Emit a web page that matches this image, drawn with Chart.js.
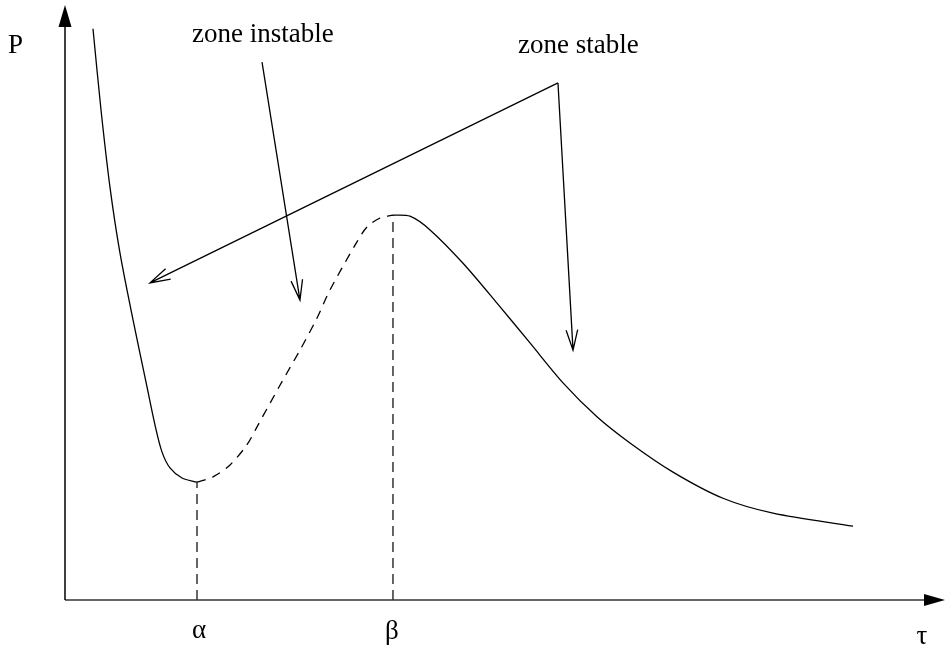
<!DOCTYPE html>
<html>
<head>
<meta charset="utf-8">
<script src="https://cdn.jsdelivr.net/npm/chart.js@4.4.1/dist/chart.umd.min.js"></script>
<style>
    html, body { margin: 0; padding: 0; background: #fff; }
    #wrap { width: 945px; height: 650px; }
</style>
</head>
<body>
<div id="wrap"><canvas id="diagram" width="945" height="650"></canvas></div>
<script>
// branche stable gauche (avant alpha)
const stableLeftTau = [0.318, 0.409, 0.511, 0.625, 0.773, 0.932, 1.023, 1.102, 1.193, 1.33, 1.5];
const stableLeftP = [9.60, 8.24, 6.94, 5.83, 4.71, 3.58, 2.94, 2.49, 2.22, 2.05, 1.98];

// branche instable (entre alpha et beta)
const unstableTau = [1.5, 1.682, 1.875, 2.068, 2.193, 2.443, 2.67, 2.864, 3.011, 3.318, 3.432, 3.58, 3.727];
const unstableP = [1.98, 2.07, 2.27, 2.61, 2.94, 3.61, 4.20, 4.74, 5.21, 6.02, 6.27, 6.42, 6.47];

// branche stable droite (apres beta)
const stableRightTau = [3.727, 3.92, 4.148, 4.523, 4.909, 5.284, 5.659, 6.045, 6.42, 6.909, 7.477, 8.045, 8.955];
const stableRightP = [6.47, 6.45, 6.22, 5.66, 4.99, 4.32, 3.65, 3.08, 2.64, 2.15, 1.71, 1.46, 1.24];

// points critiques
const criticalTau = [1.5, 3.727];
const criticalP = [1.98, 6.47];
const criticalLabels = ["α", "β"];

const FONT = "27px 'Liberation Serif', 'DejaVu Serif', serif";

function toPoints(xs, ys) {
    return xs.map(function (x, i) {
        return { x: x, y: ys[i] };
    });
}

function curveDataset(xs, ys, dashed) {
    return {
        data: toPoints(xs, ys),
        borderColor: "#000",
        borderWidth: 1.3,
        borderDash: dashed ? [9, 7] : [],
        pointRadius: 0,
        tension: 0.3,
        fill: false,
        clip: false,
    };
}

function markerDataset(i) {
    return {
        data: [
            { x: criticalTau[i], y: 0 },
            { x: criticalTau[i], y: criticalP[i] },
        ],
        borderColor: "#000",
        borderWidth: 1.2,
        borderDash: [10, 6],
        pointRadius: 0,
        tension: 0,
        fill: false,
        clip: false,
    };
}

function openArrow(ctx, x1, y1, x2, y2) {
    const ang = Math.atan2(y2 - y1, x2 - x1);
    const len = 21;
    const spread = 0.28;
    ctx.beginPath();
    ctx.moveTo(x1, y1);
    ctx.lineTo(x2, y2);
    ctx.moveTo(x2 - len * Math.cos(ang - spread), y2 - len * Math.sin(ang - spread));
    ctx.lineTo(x2, y2);
    ctx.lineTo(x2 - len * Math.cos(ang + spread), y2 - len * Math.sin(ang + spread));
    ctx.stroke();
}

const diagramPlugin = {
    id: "diagramDecor",
    afterDatasetsDraw: function (chart) {
        const ctx = chart.ctx;
        const xs = chart.scales.x;
        const ys = chart.scales.y;
        const px = function (v) { return xs.getPixelForValue(v); };
        const py = function (v) { return ys.getPixelForValue(v); };
        const area = chart.chartArea;

        ctx.save();

        // axe des tau
        ctx.strokeStyle = "#333";
        ctx.lineWidth = 1.6;
        ctx.beginPath();
        ctx.moveTo(area.left, area.bottom);
        ctx.lineTo(area.right - 20, area.bottom);
        ctx.stroke();
        ctx.fillStyle = "#000";
        ctx.beginPath();
        ctx.moveTo(area.right - 21, area.bottom - 6);
        ctx.lineTo(area.right, area.bottom);
        ctx.lineTo(area.right - 21, area.bottom + 6);
        ctx.closePath();
        ctx.fill();

        // axe des P
        ctx.strokeStyle = "#000";
        ctx.lineWidth = 1.5;
        ctx.beginPath();
        ctx.moveTo(area.left, area.bottom);
        ctx.lineTo(area.left, area.top + 20);
        ctx.stroke();
        ctx.beginPath();
        ctx.moveTo(area.left - 6.5, area.top + 22);
        ctx.lineTo(area.left, area.top);
        ctx.lineTo(area.left + 6.5, area.top + 22);
        ctx.closePath();
        ctx.fill();

        // fleches
        ctx.lineWidth = 1.3;
        ctx.strokeStyle = "#000";
        openArrow(ctx, px(2.239), py(9.04), px(2.67), py(5.04));
        openArrow(ctx, px(5.602), py(8.69), px(0.966), py(5.33));
        openArrow(ctx, px(5.602), py(8.69), px(5.773), py(4.20));

        // textes
        ctx.fillStyle = "#000";
        ctx.font = FONT;
        ctx.textBaseline = "alphabetic";
        ctx.textAlign = "left";
        ctx.fillText("zone instable", px(1.443), py(9.38));
        ctx.fillText("zone stable", px(5.148), py(9.19));
        ctx.fillText("P", 8, py(9.19));

        ctx.textAlign = "center";
        ctx.fillText(criticalLabels[0], px(criticalTau[0]) + 2, area.bottom + 38);
        ctx.fillText(criticalLabels[1], px(criticalTau[1]) - 1, area.bottom + 39);
        ctx.fillText("τ", 922, area.bottom + 44);

        ctx.restore();
    },
};

const datasets = [
    curveDataset(stableLeftTau, stableLeftP, false),
    curveDataset(unstableTau, unstableP, true),
    curveDataset(stableRightTau, stableRightP, false),
    markerDataset(0),
    markerDataset(1),
];

new Chart(document.getElementById("diagram").getContext("2d"), {
    type: "line",
    data: { datasets: datasets },
    options: {
        responsive: false,
        animation: false,
        events: [],
        layout: {
            padding: { top: 5, right: 0, bottom: 50, left: 65 },
        },
        plugins: {
            legend: { display: false },
            tooltip: { enabled: false },
        },
        scales: {
            x: { type: "linear", min: 0, max: 10, display: false },
            y: { type: "linear", min: 0, max: 10, display: false },
        },
    },
    plugins: [diagramPlugin],
});
</script>
</body>
</html>
